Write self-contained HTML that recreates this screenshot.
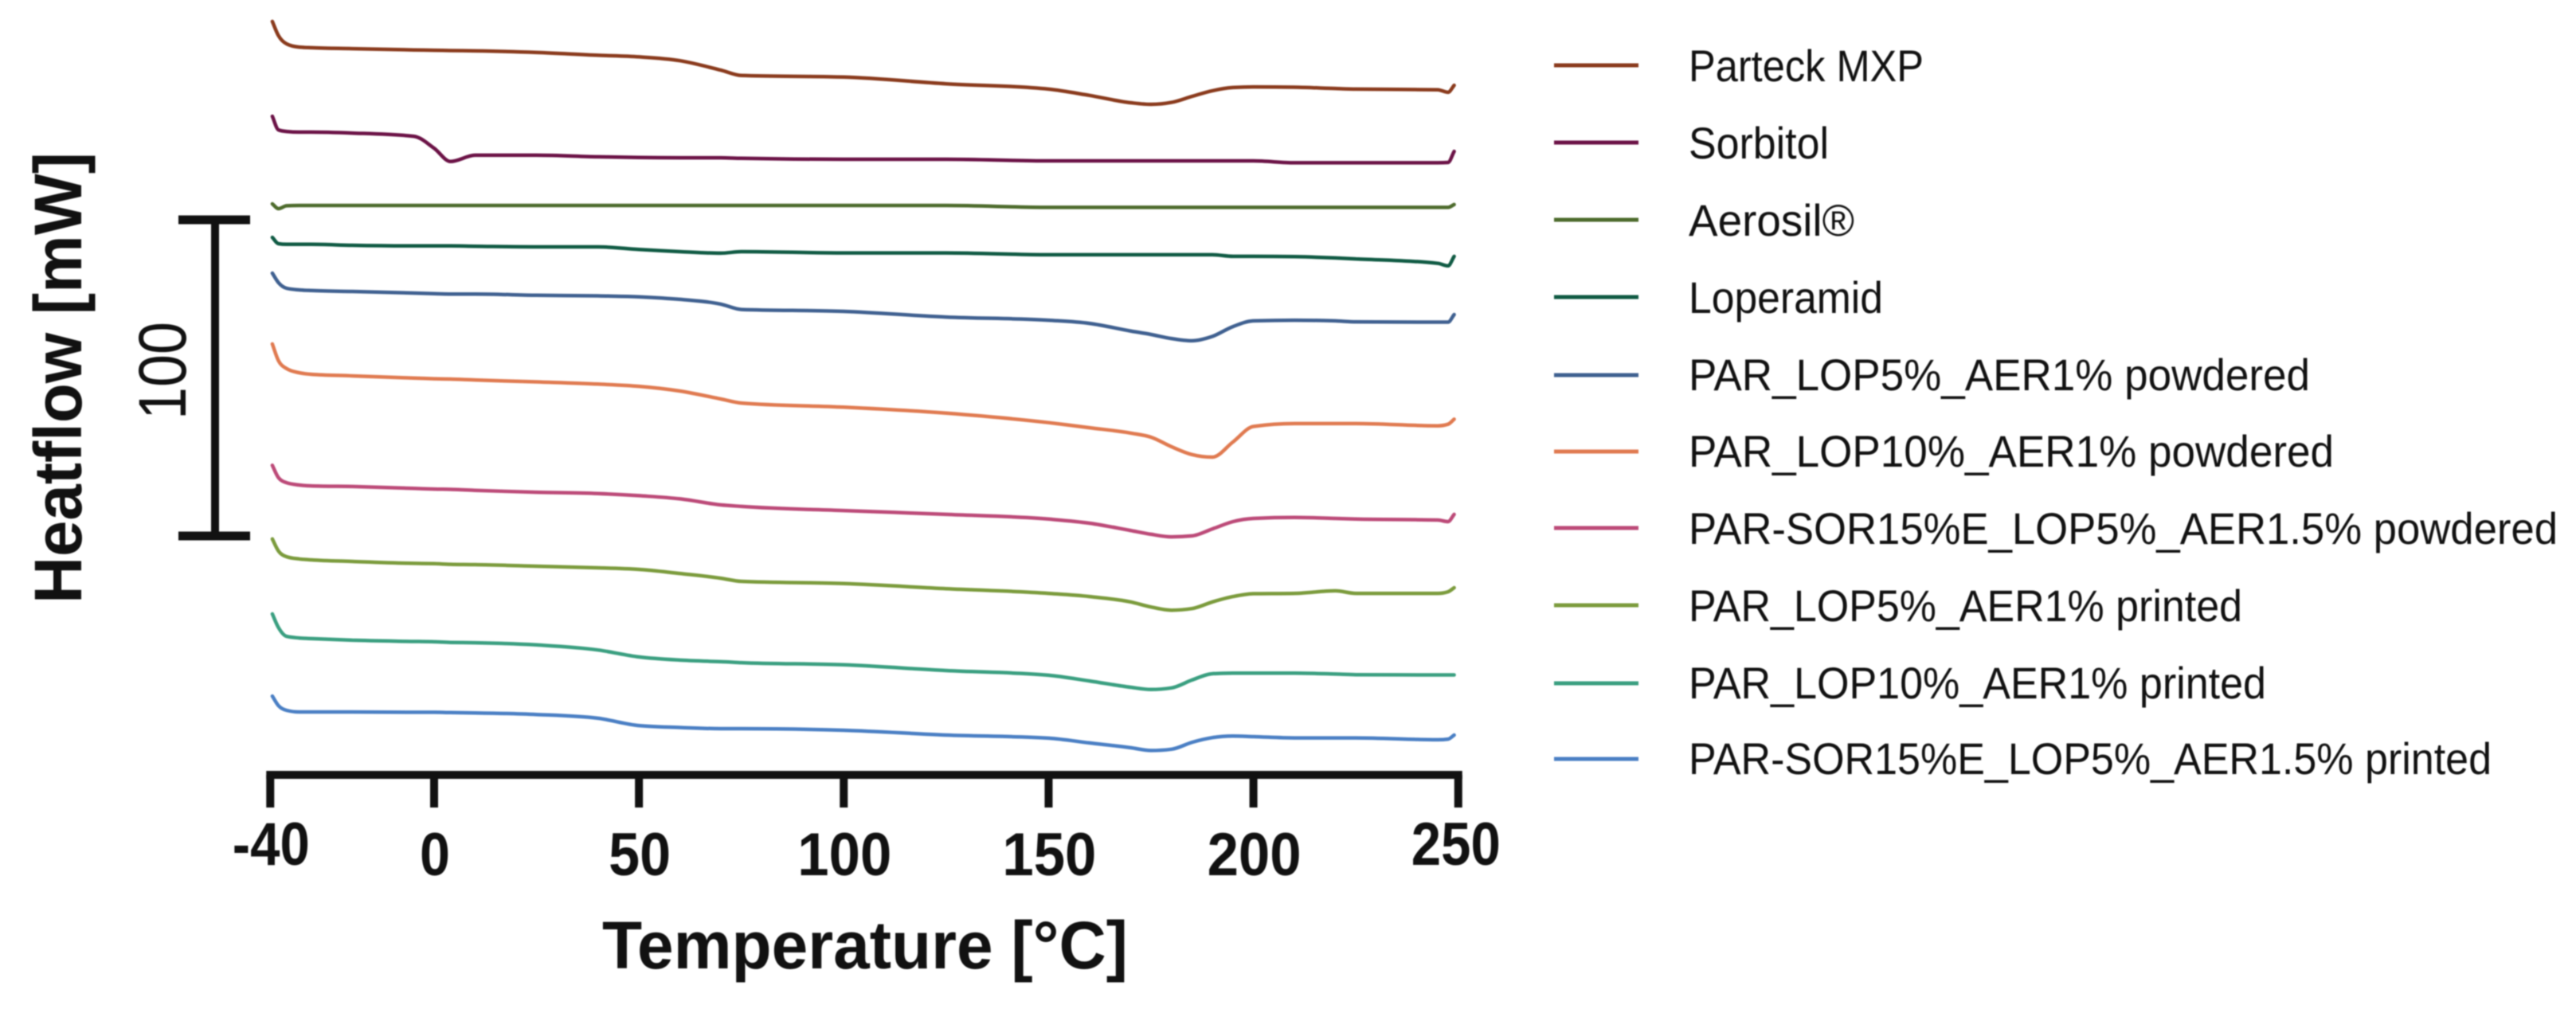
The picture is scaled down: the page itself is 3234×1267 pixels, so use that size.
<!DOCTYPE html>
<html lang="en">
<head>
<meta charset="utf-8">
<title>DSC Heatflow vs Temperature</title>
<style>
html,body{margin:0;padding:0;background:#fff;width:3234px;height:1267px;overflow:hidden}
svg{display:block;filter:blur(0.7px)}
text{font-family:"Liberation Sans",sans-serif;fill:#111}
.lg{font-size:56px}
.b{font-weight:bold}
</style>
</head>
<body>
<svg id="chart" xmlns="http://www.w3.org/2000/svg" width="3234" height="1267" viewBox="0 0 3234 1267">
  <rect x="0" y="0" width="3234" height="1267" fill="#fff"/>
  <g id="curves"></g>
  <g id="xaxis"></g>
  <text class="b" x="756" y="1216" font-size="84" textLength="660" lengthAdjust="spacingAndGlyphs">Temperature [°C]</text>
  <text class="b" transform="translate(102,758) rotate(-90)" font-size="84" textLength="567" lengthAdjust="spacingAndGlyphs">Heatflow [mW]</text>
  <g id="scalebar"></g>
  <text transform="translate(233,527) rotate(-90)" font-size="84" textLength="123" lengthAdjust="spacingAndGlyphs">100</text>
  <g>
    <line x1="1951" x2="2057" y1="82" y2="82" stroke="#8a3a1c" stroke-width="5"/>
    <text class="lg" x="2120" y="102" textLength="295" lengthAdjust="spacingAndGlyphs">Parteck MXP</text>
    <line x1="1951" x2="2057" y1="179" y2="179" stroke="#6b1246" stroke-width="5"/>
    <text class="lg" x="2120" y="199" textLength="176" lengthAdjust="spacingAndGlyphs">Sorbitol</text>
    <line x1="1951" x2="2057" y1="276" y2="276" stroke="#4d6b2c" stroke-width="5"/>
    <text class="lg" x="2120" y="296" textLength="208" lengthAdjust="spacingAndGlyphs">Aerosil®</text>
    <line x1="1951" x2="2057" y1="373" y2="373" stroke="#0f5a43" stroke-width="5"/>
    <text class="lg" x="2120" y="393" textLength="244" lengthAdjust="spacingAndGlyphs">Loperamid</text>
    <line x1="1951" x2="2057" y1="471" y2="471" stroke="#3f6090" stroke-width="5"/>
    <text class="lg" x="2120" y="490" textLength="780" lengthAdjust="spacingAndGlyphs">PAR_LOP5%_AER1% powdered</text>
    <line x1="1951" x2="2057" y1="567" y2="567" stroke="#e07a50" stroke-width="5"/>
    <text class="lg" x="2120" y="586" textLength="810" lengthAdjust="spacingAndGlyphs">PAR_LOP10%_AER1% powdered</text>
    <line x1="1951" x2="2057" y1="663" y2="663" stroke="#bc4a78" stroke-width="5"/>
    <text class="lg" x="2120" y="683" textLength="1091" lengthAdjust="spacingAndGlyphs">PAR-SOR15%E_LOP5%_AER1.5% powdered</text>
    <line x1="1951" x2="2057" y1="760" y2="760" stroke="#7b9b3c" stroke-width="5"/>
    <text class="lg" x="2120" y="780" textLength="695" lengthAdjust="spacingAndGlyphs">PAR_LOP5%_AER1% printed</text>
    <line x1="1951" x2="2057" y1="858" y2="858" stroke="#3a9f80" stroke-width="5"/>
    <text class="lg" x="2120" y="877" textLength="725" lengthAdjust="spacingAndGlyphs">PAR_LOP10%_AER1% printed</text>
    <line x1="1951" x2="2057" y1="953" y2="953" stroke="#4a7fc4" stroke-width="5"/>
    <text class="lg" x="2120" y="972" textLength="1008" lengthAdjust="spacingAndGlyphs">PAR-SOR15%E_LOP5%_AER1.5% printed</text>
  </g>
</svg>
<script>
const temps = [-39.5,-38,-36,-33,-30,-20,-5,0,4,10,25,40,50,60,70,75,100,125,150,160,170,175,180,185,190,195,200,210,220,225,245,247.5,249];
const tickLabels = [-40,0,50,100,150,200,250];
const scaleBarMw = [0,100];
const parteck = [238.3,233.8,231.2,230.2,230.0,229.7,229.3,229.2,229.1,229.0,228.5,227.6,227.1,225.9,222.9,221.2,220.7,218.6,216.9,214.9,212.6,212.1,212.7,214.6,216.4,217.4,217.6,217.5,217.1,216.9,216.7,215.9,218.1];
const sorbitol = [208.3,204.0,203.5,203.3,203.3,203.0,202.0,198.2,194.0,196.0,196.0,195.5,195.3,195.2,195.2,195.0,194.7,194.7,194.2,194.2,194.2,194.2,194.2,194.2,194.2,194.2,194.2,193.6,193.6,193.6,193.6,193.7,197.2];
const aerosil = [180.6,179.1,180.0,180.1,180.1,180.1,180.1,180.1,180.1,180.1,180.1,180.1,180.1,180.1,180.1,180.1,180.1,180.1,179.5,179.5,179.5,179.5,179.5,179.5,179.5,179.5,179.5,179.5,179.5,179.5,179.5,179.5,180.4];
const loperamid = [170.0,168.0,167.8,167.8,167.8,167.5,167.3,167.3,167.3,167.2,167.0,167.0,166.2,165.5,165.0,165.5,165.1,165.1,164.5,164.5,164.5,164.5,164.5,164.5,164.5,164.0,164.0,163.9,163.5,163.2,161.8,161.0,164.0];
const lop5Powdered = [158.7,155.7,153.9,153.4,153.2,152.9,152.4,152.2,152.1,152.1,151.7,151.5,151.2,150.4,148.9,147.2,146.6,144.8,143.8,142.8,140.4,139.3,138.0,137.3,138.7,141.8,143.6,143.8,143.6,143.3,143.2,143.2,145.6];
const lop10Powdered = [136.3,131.0,128.5,127.2,126.7,126.2,125.5,125.3,125.2,124.9,124.3,123.6,122.9,121.4,118.9,117.6,116.3,114.4,111.4,109.8,108.1,106.8,103.8,101.3,100.5,105.3,110.2,111.1,111.1,111.1,110.4,110.9,112.5];
const sorPowdered = [97.9,94.0,92.4,91.7,91.4,91.2,90.6,90.4,90.3,90.0,89.4,89.0,88.3,87.3,85.4,84.9,83.6,82.4,80.9,79.6,77.3,76.1,75.3,75.6,77.8,80.1,81.1,81.4,81.1,80.9,80.6,80.1,82.4];
const lop5Printed = [74.6,70.8,69.0,68.3,68.0,67.5,66.9,66.8,66.6,66.5,66.0,65.5,65.0,63.7,62.2,61.2,60.5,58.9,57.4,56.4,54.7,53.1,52.1,52.6,54.7,56.4,57.3,57.4,58.2,57.4,57.4,57.9,59.2];
const lop10Printed = [50.9,46.6,43.8,43.3,43.1,42.6,42.2,42.1,41.9,41.8,41.1,39.5,37.3,36.3,35.8,35.5,34.8,33.0,31.5,29.7,27.7,27.0,27.5,30.0,32.0,32.2,32.2,32.2,31.9,31.7,31.6,31.6,31.6];
const sorPrinted = [24.9,21.9,20.4,19.9,19.9,19.9,19.8,19.8,19.7,19.6,19.1,17.9,15.6,15.0,14.6,14.6,14.1,12.6,11.6,10.1,8.6,7.7,8.1,10.3,11.8,12.3,12.1,11.7,11.7,11.7,11.1,11.3,12.6];

const NS = 'http://www.w3.org/2000/svg';
function xScale(t){ return 545 + 5.143 * t; }
function yScale(v){ return 973 - 3.97 * v; }

function slopeAt(px, py, i){
  const n = px.length;
  const s0 = i > 0 ? (py[i] - py[i - 1]) / (px[i] - px[i - 1]) : null;
  const s1 = i < n - 1 ? (py[i + 1] - py[i]) / (px[i + 1] - px[i]) : null;
  if (s0 === null) return s1;
  if (s1 === null) return s0;
  if (s0 * s1 <= 0) return 0;
  const h0 = px[i] - px[i - 1];
  const h1 = px[i + 1] - px[i];
  const p = (s0 * h1 + s1 * h0) / (h0 + h1);
  const sign = s0 > 0 ? 1 : -1;
  return sign * Math.min(Math.abs(s0), Math.abs(s1), 0.5 * Math.abs(p)) * 2;
}

function drawCurve(values, color, name){
  const px = temps.map(xScale);
  const py = values.map(yScale);
  let d = 'M' + px[0].toFixed(1) + ' ' + py[0].toFixed(1);
  for (let i = 0; i < px.length - 1; i++) {
    const h = (px[i + 1] - px[i]) / 3;
    const c1y = py[i] + slopeAt(px, py, i) * h;
    const c2y = py[i + 1] - slopeAt(px, py, i + 1) * h;
    d += 'C' + (px[i] + h).toFixed(1) + ' ' + c1y.toFixed(1) + ' ' + (px[i + 1] - h).toFixed(1) + ' ' + c2y.toFixed(1) + ' ' + px[i + 1].toFixed(1) + ' ' + py[i + 1].toFixed(1);
  }
  const path = document.createElementNS(NS, 'path');
  path.setAttribute('d', d);
  path.setAttribute('fill', 'none');
  path.setAttribute('stroke', color);
  path.setAttribute('stroke-width', '4.5');
  path.setAttribute('stroke-linejoin', 'round');
  path.setAttribute('stroke-linecap', 'round');
  
  
  document.getElementById('curves').appendChild(path);
}
drawCurve(parteck, '#8a3a1c', 'curve-parteck');
drawCurve(sorbitol, '#6b1246', 'curve-sorbitol');
drawCurve(aerosil, '#4d6b2c', 'curve-aerosil');
drawCurve(loperamid, '#0f5a43', 'curve-loperamid');
drawCurve(lop5Powdered, '#3f6090', 'curve-lop5-powdered');
drawCurve(lop10Powdered, '#e07a50', 'curve-lop10-powdered');
drawCurve(sorPowdered, '#bc4a78', 'curve-sor-powdered');
drawCurve(lop5Printed, '#7b9b3c', 'curve-lop5-printed');
drawCurve(lop10Printed, '#3a9f80', 'curve-lop10-printed');
drawCurve(sorPrinted, '#4a7fc4', 'curve-sor-printed');

const xAxisGroup = document.getElementById('xaxis');
const axisLine = document.createElementNS(NS, 'line');
axisLine.setAttribute('x1', xScale(tickLabels[0]) - 5);
axisLine.setAttribute('x2', xScale(tickLabels[tickLabels.length - 1]) + 5);
axisLine.setAttribute('y1', 973);
axisLine.setAttribute('y2', 973);
axisLine.setAttribute('stroke', '#111');
axisLine.setAttribute('stroke-width', 10);


xAxisGroup.appendChild(axisLine);

tickLabels.forEach(function(t, i){
  const tick = document.createElementNS(NS, 'line');
  tick.setAttribute('x1', xScale(t));
  tick.setAttribute('x2', xScale(t));
  tick.setAttribute('y1', 973);
  tick.setAttribute('y2', 1014);
  tick.setAttribute('stroke', '#111');
  tick.setAttribute('stroke-width', 10);
  
  
  xAxisGroup.appendChild(tick);
  const isFirst = i === 0;
  const isLast = i === tickLabels.length - 1;
  const digits = String(Math.abs(t)).length;
  const width = digits * 40 - 2 + (t < 0 ? 19 : 0) - (isLast ? 6 : 0);
  const center = xScale(t) + (isLast ? -3 : 1);
  const label = document.createElementNS(NS, 'text');
  label.setAttribute('x', (center - width / 2).toFixed(1));
  label.setAttribute('y', (isFirst || isLast) ? 1086 : 1099);
  label.setAttribute('font-size', 76);
  label.setAttribute('font-weight', 'bold');
  label.setAttribute('textLength', width);
  label.setAttribute('lengthAdjust', 'spacingAndGlyphs');
  
  
  label.textContent = String(t);
  xAxisGroup.appendChild(label);
});

const scaleGroup = document.getElementById('scalebar');
function scaleY(v){ return 673 - 3.97 * v; }
const scaleStem = document.createElementNS(NS, 'line');
scaleStem.setAttribute('x1', 270);
scaleStem.setAttribute('x2', 270);
scaleStem.setAttribute('y1', scaleY(scaleBarMw[0]));
scaleStem.setAttribute('y2', scaleY(scaleBarMw[1]));
scaleStem.setAttribute('stroke', '#111');
scaleStem.setAttribute('stroke-width', 10);


scaleGroup.appendChild(scaleStem);
scaleBarMw.forEach(function(v){
  const cap = document.createElementNS(NS, 'line');
  cap.setAttribute('x1', 224);
  cap.setAttribute('x2', 314);
  cap.setAttribute('y1', scaleY(v));
  cap.setAttribute('y2', scaleY(v));
  cap.setAttribute('stroke', '#111');
  cap.setAttribute('stroke-width', 11);
  
  
  scaleGroup.appendChild(cap);
});
</script>
</body>
</html>
